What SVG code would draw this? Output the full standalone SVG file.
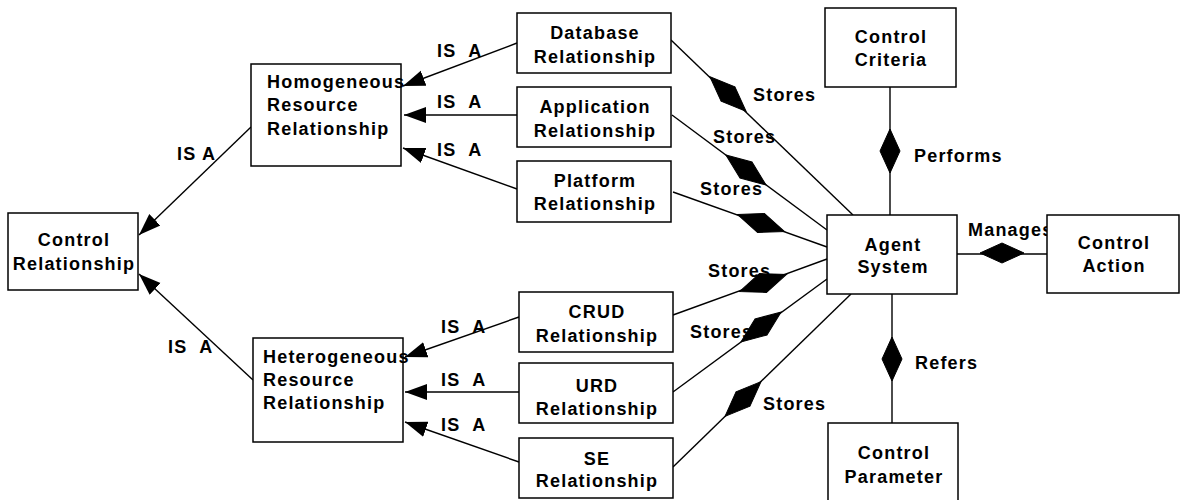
<svg xmlns="http://www.w3.org/2000/svg" xmlns:xlink="http://www.w3.org/1999/xlink" width="1182" height="500" viewBox="0 0 1182 500">
  <style>
    .box { fill: #ffffff; stroke: #000000; stroke-width: 1.5; }
    .t { font-family: "Liberation Sans", Arial, sans-serif; font-weight: bold; font-size: 18px; letter-spacing: 1.2px; fill: #000000; }
    .c { text-anchor: middle; }
    .pre { white-space: pre; }
    .edge { fill: none; stroke: #000000; stroke-width: 1.4; }
    .isa { marker-end: url(#arrow); }
    .dia { fill: #000000; stroke: #000000; stroke-width: 1; }
  </style>
  <defs>
    <marker id="arrow" markerUnits="userSpaceOnUse" markerWidth="24" markerHeight="18" viewBox="0 -9 24 18" refX="22" refY="0" orient="auto">
      <path d="M0 -8 L22 0 L0 8 Z" fill="#000000"/>
    </marker>
    <path id="storeDia" d="M-25 0 L0 -10 L25 0 L0 10 Z"/>
    <path id="bigDia" d="M-22 0 L0 -10 L22 0 L0 10 Z"/>
  </defs>

  <rect width="1182" height="500" fill="#ffffff"/>

  <!-- connectors -->
  <g id="connectors">
    <!-- IS A generalisations -->
    <line class="edge isa" x1="251" y1="127" x2="139" y2="235"/>
    <line class="edge isa" x1="253" y1="380" x2="139" y2="274"/>
    <line class="edge isa" x1="517" y1="43" x2="403" y2="86"/>
    <line class="edge isa" x1="517" y1="115" x2="404" y2="115"/>
    <line class="edge isa" x1="517" y1="189" x2="403" y2="148"/>
    <line class="edge isa" x1="519" y1="317" x2="405" y2="357"/>
    <line class="edge isa" x1="519" y1="392" x2="405" y2="392"/>
    <line class="edge isa" x1="519" y1="462" x2="405" y2="422"/>

    <!-- Stores aggregations into Agent System -->
    <line class="edge" x1="671" y1="40" x2="853" y2="215"/>
    <line class="edge" x1="672" y1="115" x2="827" y2="230"/>
    <line class="edge" x1="673" y1="192" x2="827" y2="247"/>
    <line class="edge" x1="673" y1="315" x2="827" y2="259"/>
    <line class="edge" x1="673" y1="392" x2="827" y2="279"/>
    <line class="edge" x1="673" y1="467" x2="851" y2="294"/>
    <use href="#storeDia" class="dia" transform="translate(728 94) rotate(43.7)"/>
    <use href="#storeDia" class="dia" transform="translate(746 170) rotate(36.7)"/>
    <use href="#storeDia" class="dia" transform="translate(761 223) rotate(19.9)"/>
    <use href="#storeDia" class="dia" transform="translate(763 283) rotate(-20.2)"/>
    <use href="#storeDia" class="dia" transform="translate(761 327) rotate(-36.6)"/>
    <use href="#storeDia" class="dia" transform="translate(743 399) rotate(-44)"/>

    <!-- Performs / Manages / Refers -->
    <line class="edge" x1="890" y1="87" x2="890" y2="215"/>
    <line class="edge" x1="957" y1="254" x2="1047" y2="254"/>
    <line class="edge" x1="892" y1="294" x2="892" y2="423"/>
    <use href="#bigDia" class="dia" transform="translate(890 151) rotate(90)"/>
    <use href="#bigDia" class="dia" transform="translate(1002 253)"/>
    <use href="#bigDia" class="dia" transform="translate(892 359) rotate(90)"/>

    <!-- connector labels -->
    <text class="t" x="177" y="160">IS A</text>
    <text class="t pre" x="168" y="353">IS  A</text>
    <text class="t pre" x="437" y="57">IS  A</text>
    <text class="t pre" x="437" y="108">IS  A</text>
    <text class="t pre" x="437" y="156">IS  A</text>
    <text class="t pre" x="441" y="333">IS  A</text>
    <text class="t pre" x="441" y="386">IS  A</text>
    <text class="t pre" x="441" y="431">IS  A</text>
    <text class="t" x="753" y="101">Stores</text>
    <text class="t" x="713" y="143">Stores</text>
    <text class="t" x="700" y="195">Stores</text>
    <text class="t" x="708" y="277">Stores</text>
    <text class="t" x="690" y="338">Stores</text>
    <text class="t" x="763" y="410">Stores</text>
    <text class="t" x="914" y="162">Performs</text>
    <text class="t" x="968" y="236">Manages</text>
    <text class="t" x="915" y="369">Refers</text>
  </g>

  <!-- nodes -->
  <g id="control-relationship">
    <rect class="box" x="8" y="213" width="130" height="77"/>
    <text class="t c" x="74" y="246">Control</text>
    <text class="t c" x="74" y="270">Relationship</text>
  </g>
  <g id="homogeneous">
    <rect class="box" x="251" y="64" width="150" height="102"/>
    <text class="t" x="267" y="88">Homogeneous</text>
    <text class="t" x="267" y="111">Resource</text>
    <text class="t" x="267" y="135">Relationship</text>
  </g>
  <g id="heterogeneous">
    <rect class="box" x="253" y="338" width="150" height="104"/>
    <text class="t" x="263" y="363">Heterogeneous</text>
    <text class="t" x="263" y="386">Resource</text>
    <text class="t" x="263" y="409">Relationship</text>
  </g>
  <g id="database">
    <rect class="box" x="517" y="13" width="154" height="60"/>
    <text class="t c" x="595" y="39">Database</text>
    <text class="t c" x="595" y="63">Relationship</text>
  </g>
  <g id="application">
    <rect class="box" x="517" y="87" width="154" height="60"/>
    <text class="t c" x="595" y="113">Application</text>
    <text class="t c" x="595" y="137">Relationship</text>
  </g>
  <g id="platform">
    <rect class="box" x="517" y="161" width="154" height="61"/>
    <text class="t c" x="595" y="187">Platform</text>
    <text class="t c" x="595" y="210">Relationship</text>
  </g>
  <g id="crud">
    <rect class="box" x="519" y="292" width="154" height="60"/>
    <text class="t c" x="597" y="318">CRUD</text>
    <text class="t c" x="597" y="342">Relationship</text>
  </g>
  <g id="urd">
    <rect class="box" x="519" y="363" width="154" height="60"/>
    <text class="t c" x="597" y="392">URD</text>
    <text class="t c" x="597" y="415">Relationship</text>
  </g>
  <g id="se">
    <rect class="box" x="519" y="438" width="154" height="60"/>
    <text class="t c" x="597" y="465">SE</text>
    <text class="t c" x="597" y="487">Relationship</text>
  </g>
  <g id="control-criteria">
    <rect class="box" x="825" y="8" width="131" height="79"/>
    <text class="t c" x="891" y="43">Control</text>
    <text class="t c" x="891" y="66">Criteria</text>
  </g>
  <g id="agent-system">
    <rect class="box" x="827" y="215" width="130" height="79"/>
    <text class="t c" x="893" y="251">Agent</text>
    <text class="t c" x="893" y="273">System</text>
  </g>
  <g id="control-action">
    <rect class="box" x="1047" y="215" width="132" height="78"/>
    <text class="t c" x="1114" y="249">Control</text>
    <text class="t c" x="1114" y="272">Action</text>
  </g>
  <g id="control-parameter">
    <rect class="box" x="828" y="423" width="130" height="78"/>
    <text class="t c" x="894" y="459">Control</text>
    <text class="t c" x="894" y="483">Parameter</text>
  </g>
</svg>
